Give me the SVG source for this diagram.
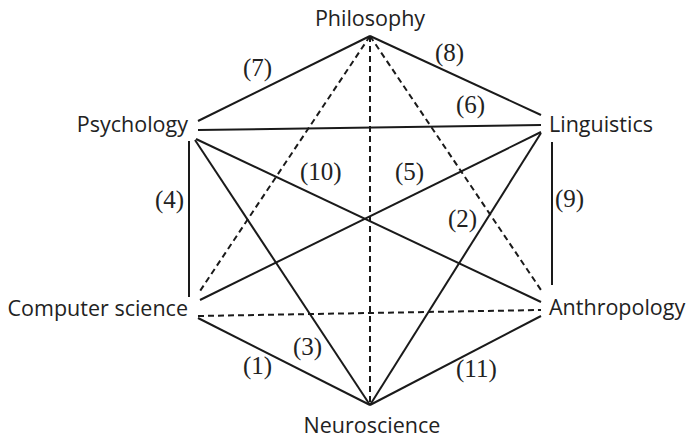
<svg xmlns="http://www.w3.org/2000/svg" width="690" height="440" viewBox="0 0 690 440">
<style>
.n{font-family:"Open Sans","Noto Sans",sans-serif;font-size:21.5px;fill:#222}
.l{font-family:"Liberation Serif",serif;font-size:25px;fill:#222}
.s{stroke:#1a1a1a;stroke-width:2;fill:none}
.d{stroke:#1a1a1a;stroke-width:2;fill:none;stroke-dasharray:6 4}
</style>
<rect width="690" height="440" fill="#fff"/>
<g id="connectors">
<line class="s" x1="370" y1="36" x2="198" y2="121"/>
<line class="s" x1="370" y1="36" x2="541" y2="115"/>
<line class="s" x1="198" y1="130" x2="541" y2="125"/>
<line class="s" x1="189" y1="141" x2="189" y2="297"/>
<line class="s" x1="552" y1="142" x2="552" y2="285"/>
<line class="s" x1="196" y1="139" x2="541" y2="302"/>
<line class="s" x1="195" y1="140" x2="370" y2="405"/>
<line class="s" x1="200" y1="300" x2="541" y2="132"/>
<line class="s" x1="370" y1="405" x2="541" y2="133"/>
<line class="s" x1="198" y1="318" x2="370" y2="405"/>
<line class="s" x1="370" y1="405" x2="541" y2="316"/>
<line class="d" x1="370" y1="36" x2="200" y2="291"/>
<line class="d" x1="370" y1="36" x2="370" y2="405"/>
<line class="d" x1="370" y1="36" x2="541" y2="290"/>
<line class="d" x1="198" y1="316" x2="541" y2="310"/>
<text class="l" x="243" y="76">(7)</text>
<text class="l" x="435" y="61">(8)</text>
<text class="l" x="456" y="113">(6)</text>
<text class="l" x="155" y="208">(4)</text>
<text class="l" x="555" y="207">(9)</text>
<text class="l" x="300" y="180">(10)</text>
<text class="l" x="395" y="180">(5)</text>
<text class="l" x="448" y="227">(2)</text>
<text class="l" x="293" y="355">(3)</text>
<text class="l" x="243" y="374">(1)</text>
<text class="l" x="456" y="377">(11)</text>
</g>
<g id="philosophy"><text class="n" x="370" y="26" text-anchor="middle">Philosophy</text></g>
<g id="psychology"><text class="n" x="188" y="132" text-anchor="end">Psychology</text></g>
<g id="computer-science"><text class="n" x="188" y="316" text-anchor="end">Computer science</text></g>
<g id="linguistics"><text class="n" x="549" y="132">Linguistics</text></g>
<g id="anthropology"><text class="n" x="549" y="315">Anthropology</text></g>
<g id="neuroscience"><text class="n" x="372" y="433" text-anchor="middle">Neuroscience</text></g>
</svg>
